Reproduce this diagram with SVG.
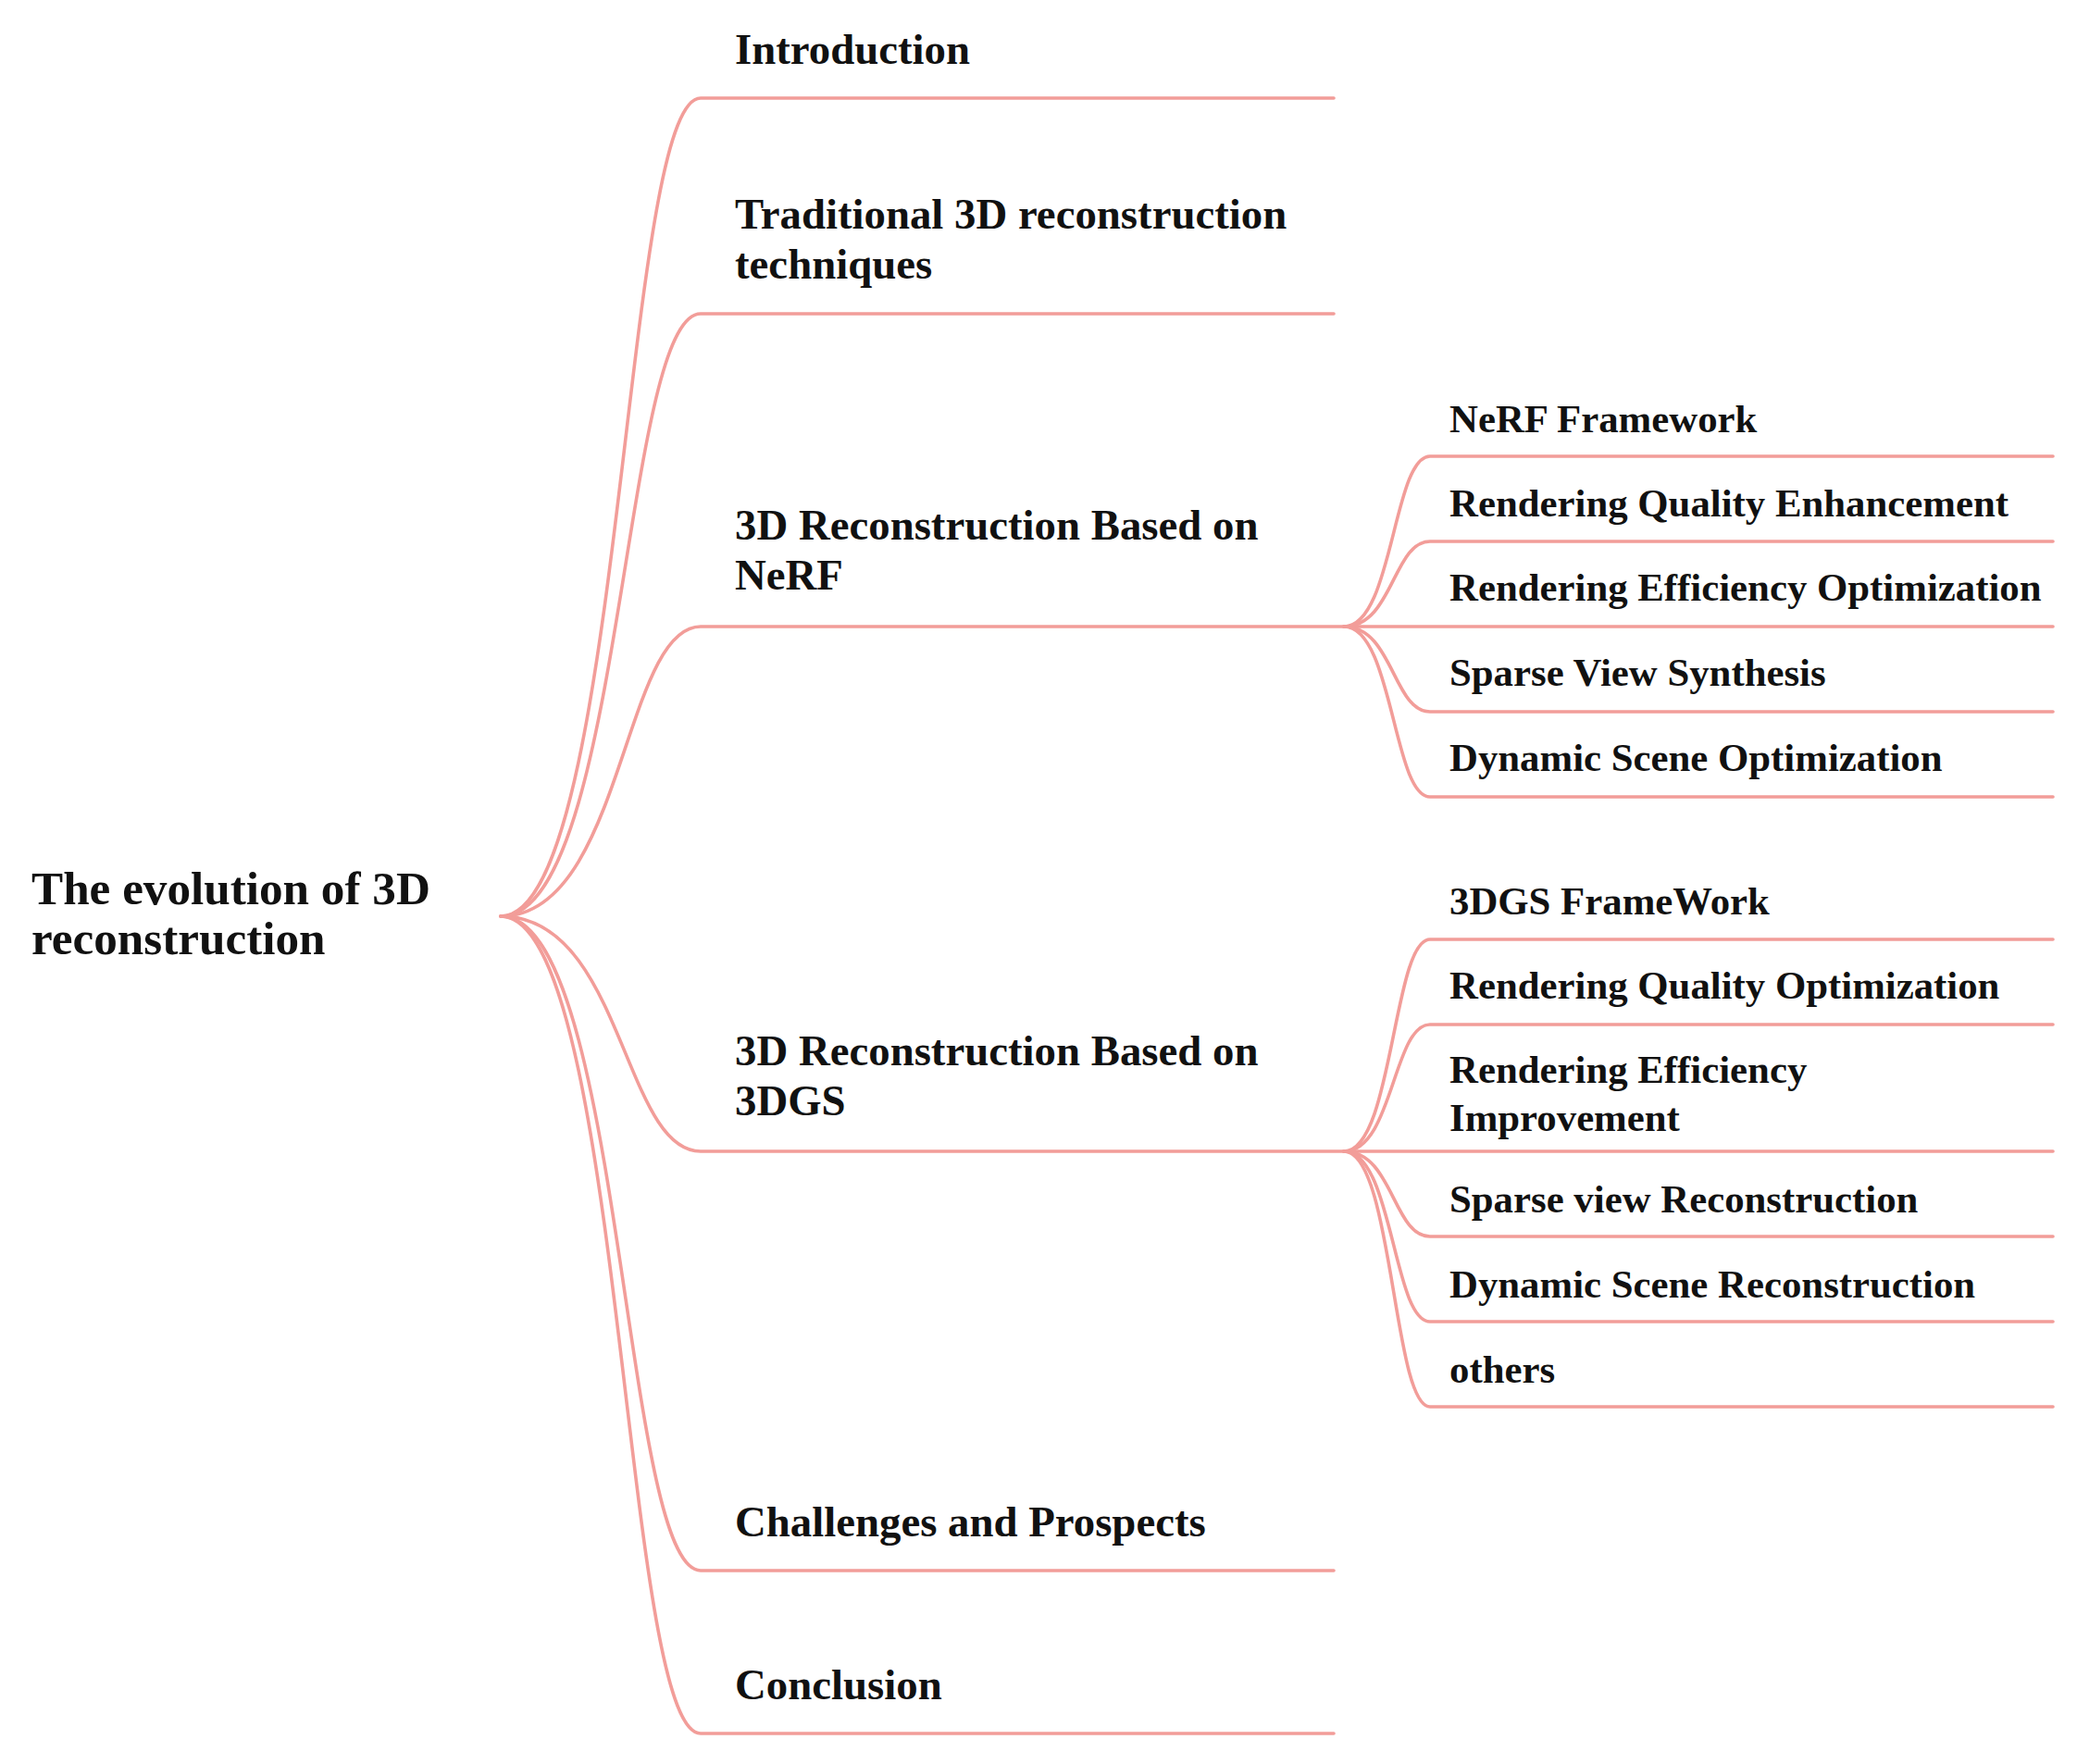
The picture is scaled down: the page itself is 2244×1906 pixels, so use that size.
<svg xmlns="http://www.w3.org/2000/svg" width="2244" height="1906" viewBox="0 0 2244 1906">
<style>
  .bg { fill: #ffffff; }
  .edge { fill: none; stroke: #f29d99; stroke-width: 3.6; stroke-linecap: round; }
  text { font-family: "Liberation Serif", "Times New Roman", serif; font-weight: bold; fill: #111111; }
  .root { font-size: 51.2px; }
  .l1 { font-size: 46.8px; }
  .l2 { font-size: 42.8px; }
</style>
<rect class="bg" x="0" y="0" width="2244" height="1906"/>
<g id="connectors">
  <path class="edge" d="M541,990 C673,990 673,106 757,106 L1441,106"/>
  <path class="edge" d="M541,990 C673,990 673,339 757,339 L1441,339"/>
  <path class="edge" d="M541,990 C673,990 673,677 757,677 L1452,677"/>
  <path class="edge" d="M541,990 C673,990 673,1244 757,1244 L1452,1244"/>
  <path class="edge" d="M541,990 C673,990 673,1697 757,1697 L1441,1697"/>
  <path class="edge" d="M541,990 C673,990 673,1873 757,1873 L1441,1873"/>
  <path class="edge" d="M1452,677 C1505,677 1505,493 1545,493 L2218,493"/>
  <path class="edge" d="M1452,677 C1505,677 1505,585 1545,585 L2218,585"/>
  <path class="edge" d="M1452,677 L2218,677"/>
  <path class="edge" d="M1452,677 C1505,677 1505,769 1545,769 L2218,769"/>
  <path class="edge" d="M1452,677 C1505,677 1505,861 1545,861 L2218,861"/>
  <path class="edge" d="M1452,1244 C1505,1244 1505,1015 1545,1015 L2218,1015"/>
  <path class="edge" d="M1452,1244 C1505,1244 1505,1107 1545,1107 L2218,1107"/>
  <path class="edge" d="M1452,1244 L2218,1244"/>
  <path class="edge" d="M1452,1244 C1505,1244 1505,1336 1545,1336 L2218,1336"/>
  <path class="edge" d="M1452,1244 C1505,1244 1505,1428 1545,1428 L2218,1428"/>
  <path class="edge" d="M1452,1244 C1505,1244 1505,1520 1545,1520 L2218,1520"/>
</g>
<g id="root"><text class="root" x="34" y="977">The evolution of 3D</text><text class="root" x="34" y="1031">reconstruction</text></g>
<g id="introduction"><text class="l1" x="794" y="69">Introduction</text></g>
<g id="traditional"><text class="l1" x="794" y="247">Traditional 3D reconstruction</text><text class="l1" x="794" y="301">techniques</text></g>
<g id="nerf"><text class="l1" x="794" y="583">3D Reconstruction Based on</text><text class="l1" x="794" y="637">NeRF</text></g>
<g id="3dgs"><text class="l1" x="794" y="1151">3D Reconstruction Based on</text><text class="l1" x="794" y="1205">3DGS</text></g>
<g id="challenges"><text class="l1" x="794" y="1660">Challenges and Prospects</text></g>
<g id="conclusion"><text class="l1" x="794" y="1836">Conclusion</text></g>
<g id="nerf-framework"><text class="l2" x="1566" y="467">NeRF Framework</text></g>
<g id="nerf-quality"><text class="l2" x="1566" y="558">Rendering Quality Enhancement</text></g>
<g id="nerf-efficiency"><text class="l2" x="1566" y="649">Rendering Efficiency Optimization</text></g>
<g id="nerf-sparse"><text class="l2" x="1566" y="741">Sparse View Synthesis</text></g>
<g id="nerf-dynamic"><text class="l2" x="1566" y="833">Dynamic Scene Optimization</text></g>
<g id="gs-framework"><text class="l2" x="1566" y="988">3DGS FrameWork</text></g>
<g id="gs-quality"><text class="l2" x="1566" y="1079">Rendering Quality Optimization</text></g>
<g id="gs-efficiency"><text class="l2" x="1566" y="1170">Rendering Efficiency</text><text class="l2" x="1566" y="1222">Improvement</text></g>
<g id="gs-sparse"><text class="l2" x="1566" y="1310">Sparse view Reconstruction</text></g>
<g id="gs-dynamic"><text class="l2" x="1566" y="1402">Dynamic Scene Reconstruction</text></g>
<g id="gs-others"><text class="l2" x="1566" y="1494">others</text></g>
</svg>
